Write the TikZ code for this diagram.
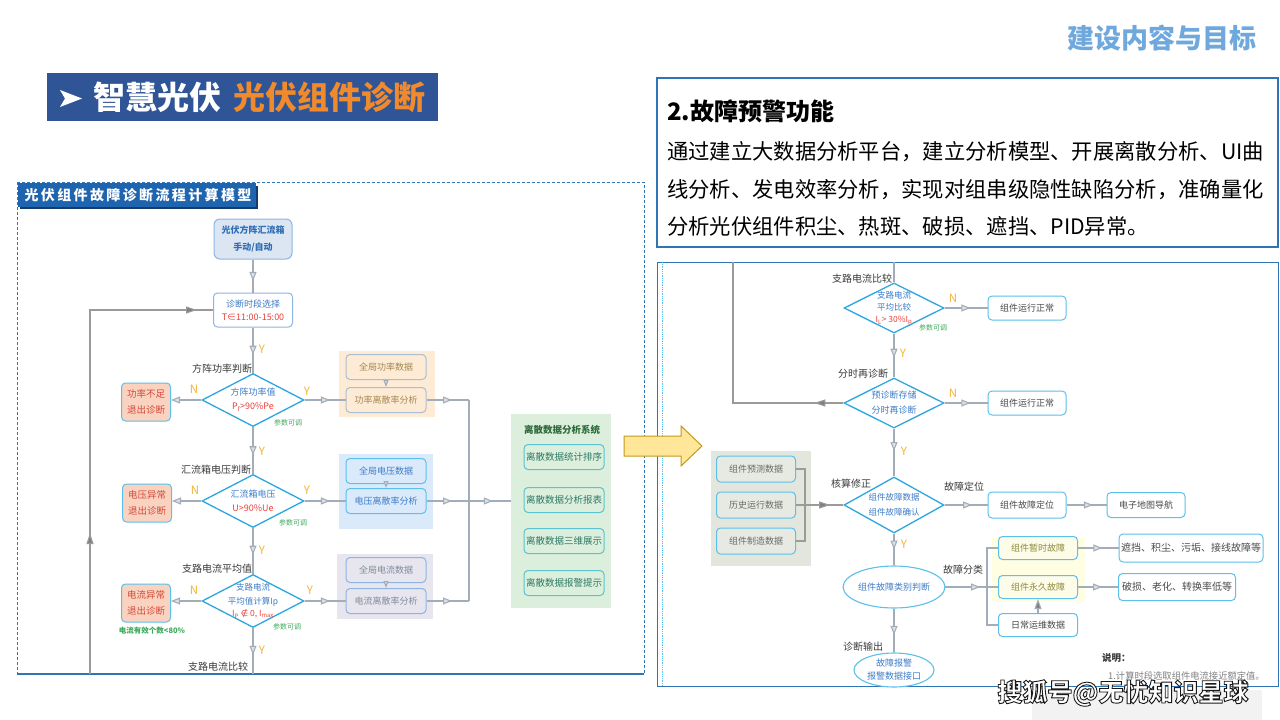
\documentclass[tikz,border=0pt]{standalone}
\usepackage{fontspec}
\setmainfont{Noto Sans CJK SC}
\newfontfamily\symfont{DejaVu Sans}
\usetikzlibrary{shapes.geometric,arrows.meta,decorations.markings}
\definecolor{titleblue}{HTML}{2F5597}
\definecolor{torange}{HTML}{F08A2C}
\definecolor{hdrblue}{HTML}{6FA8DC}
\definecolor{panelblue}{HTML}{2E75B6}
\definecolor{barblue}{HTML}{1F64AE}
\definecolor{diablue}{HTML}{2BA6E0}
\definecolor{boxblue}{HTML}{5BC0EB}
\definecolor{txtblue}{HTML}{3C7CC8}
\definecolor{txtred}{HTML}{E8413C}
\definecolor{ynorange}{HTML}{F5B335}
\definecolor{tinygreen}{HTML}{3CAA5A}
\definecolor{labelgray}{HTML}{3A3A3A}
\definecolor{boxtxt}{HTML}{4A4A4A}
\definecolor{linegray}{HTML}{A3ADB8}
\definecolor{arrfill}{HTML}{DCE1E6}
\definecolor{darkarr}{HTML}{7F7F7F}
\definecolor{loopgray}{HTML}{9A9A9A}
\definecolor{peach}{HTML}{FAD3C0}
\definecolor{peachtxt}{HTML}{D4483A}
\definecolor{pwrbg}{HTML}{FDEBD6}
\definecolor{pwrtxt}{HTML}{A5874F}
\definecolor{pwrborder}{HTML}{A9BED2}
\definecolor{volbg}{HTML}{DAEAFA}
\definecolor{curbg}{HTML}{E7E5EE}
\definecolor{curtxt}{HTML}{7F8C9A}
\definecolor{sysbg}{HTML}{DCEEDC}
\definecolor{systxt}{HTML}{2F7A68}
\definecolor{systitle}{HTML}{2E6B3C}
\definecolor{sysborder}{HTML}{5BC3D0}
\definecolor{databg}{HTML}{E2E6DC}
\definecolor{databox}{HTML}{E6EAE2}
\definecolor{datatxt}{HTML}{6A6A6A}
\definecolor{yelbg}{HTML}{FFFDE2}
\definecolor{yelbox}{HTML}{FDFCE8}
\definecolor{yeltxt}{HTML}{8E8A3E}
\definecolor{bigarrow}{HTML}{FFE699}
\definecolor{bigarrowb}{HTML}{C49A1C}
\definecolor{topfill}{HTML}{DCE6F2}
\definecolor{topborder}{HTML}{8EB4E3}
\definecolor{toptxt}{HTML}{2F6DB5}
\begin{document}
\begin{tikzpicture}[x=1pt,y=-1pt,
  lbl/.style={font=\fontsize{10}{12}\selectfont, text=labelgray, inner sep=0pt},
  yn/.style={font=\fontsize{11.5}{12}\selectfont, text=ynorange, inner sep=0pt},
  tiny/.style={font=\fontsize{7}{8}\selectfont, text=tinygreen, inner sep=0pt},
  rbox/.style={draw=boxblue, fill=white, line width=1pt, rounded corners=4pt, inner sep=0pt, align=center, text=boxtxt, font=\fontsize{9}{15}\selectfont},
  dia/.style={diamond, draw=diablue, line width=1.3pt, fill=white, inner sep=0pt},
  dtext/.style={font=\fontsize{9}{14}\selectfont, text=txtblue, align=center, inner sep=0pt},
  ell/.style={ellipse, draw=boxblue, line width=1.1pt, fill=white, inner sep=0pt, align=center, text=txtblue, font=\fontsize{9}{13}\selectfont},
  conn/.style={draw=linegray, line width=1.1pt},
  marr/.style={postaction={decorate, decoration={markings, mark=at position #1 with {\arrow{Triangle[length=9pt, width=7pt, fill=arrfill]}}}}},
  earr/.style={-{Triangle[length=9pt, width=7pt, fill=arrfill]}},
  sarr/.style={-{Triangle[length=7pt, width=5pt, fill=arrfill]}},
  darr/.style={postaction={decorate, decoration={markings, mark=at position #1 with {\arrow{Triangle[length=11pt, width=7pt, fill=darkarr]}}}}},
  pbox/.style={rbox, draw=pwrborder, fill=pwrbg, text=pwrtxt, minimum width=80pt, minimum height=25pt},
  vbox/.style={rbox, fill=volbg, text=txtblue, minimum width=80pt, minimum height=25pt},
  cbox/.style={rbox, draw=topborder, fill=curbg, text=curtxt, minimum width=80pt, minimum height=25pt},
  sbox/.style={rbox, draw=sysborder, fill=sysbg, text=systxt, minimum width=80pt, minimum height=25pt, font=\fontsize{9.5}{10}\selectfont},
  nbox/.style={rbox, fill=peach, text=peachtxt, minimum width=49pt, minimum height=38pt, font=\fontsize{9.5}{16}\selectfont},
  qbox/.style={rbox, fill=databox, text=datatxt, minimum width=79pt, minimum height=26pt},
  kbox/.style={rbox, fill=yelbox, text=yeltxt, minimum width=79pt, minimum height=23pt}
]
\useasboundingbox (0,0) rectangle (1280,720);
\fill[white] (0,0) rectangle (1280,720);

% ---------- header ----------
\node[font=\fontsize{27}{27}\selectfont\bfseries, text=hdrblue, anchor=east, inner sep=0pt] (hdr) at (1257,38) {建设内容与目标};
\fill[titleblue] (47,73) rectangle (438,121);
\fill[white] (60,90) -- (82,98.5) -- (60,107) -- (65,98.5) -- cycle;
\node[anchor=west, font=\fontsize{32}{32}\selectfont\bfseries, text=white, inner sep=0pt] (ttl) at (93,97) {智慧光伏\hspace{12pt}\textcolor{torange}{光伏组件诊断}};

% ---------- text box ----------
\draw[panelblue, line width=2pt, fill=white] (657,78) rectangle (1278,247);
\node[anchor=west, font=\fontsize{24}{24}\selectfont\bfseries, inner sep=0pt] (t2t) at (667,111) {2.故障预警功能};
\node[anchor=west, align=left, font=\fontsize{21.3}{37.5}\selectfont, inner sep=0pt] (body) at (667,189) {通过建立大数据分析平台，建立分析模型、开展离散分析、UI曲\\线分析、发电效率分析，实现对组串级隐性缺陷分析，准确量化\\分析光伏组件积尘、热斑、破损、遮挡、PID异常。};

% ---------- left panel ----------
\draw[panelblue, line width=0.8pt, densely dashed] (17,182) rectangle (644,674);
\draw[panelblue, line width=1.2pt] (17,674) -- (644,674);
\fill[barblue!60!black] (20,186) rectangle (258,209);
\fill[barblue] (18,183) rectangle (256,207);
\node[font=\fontsize{14}{14}\selectfont\bfseries\addfontfeature{LetterSpace=17}, text=white, inner sep=0pt] (ltitle) at (138,195) {光伏组件故障诊断流程计算模型};

\node[draw=topborder, fill=topfill, line width=1pt, rounded corners=6pt, minimum width=78pt, minimum height=40pt, inner sep=0pt, align=center, font=\fontsize{9}{17}\selectfont\bfseries, text=toptxt] (src) at (253,239) {光伏方阵汇流箱\\手动/自动};
\node[rbox, draw=topborder, minimum width=79pt, minimum height=34pt, font=\fontsize{9}{13}\selectfont, text=txtblue] (period) at (253,310) {诊断时段选择\\\textcolor{txtred}{T∈11:00-15:00}};
\draw[conn, marr=0.65] (src.south) -- (period.north);

% diamond 1
\node[lbl] (l1) at (222,369) {方阵功率判断};
\node[dia, minimum width=102pt, minimum height=53pt, label={[dtext]center:{方阵功率值\\\textcolor{txtred}{P\textsubscript{f}>90\%Pe}}}] (d1) at (253,400) {};
\node[tiny] (t1) at (288,423) {参数可调};
\node[yn] (yd0) at (262,349) {Y};
\node[yn] (n1l) at (194,389) {N};
\node[yn] (y1r) at (307,391) {Y};
\node[nbox] (b1) at (146,402) {功率不足\\退出诊断};
\draw[conn, marr=0.6] (period.south) -- (d1.north);
\draw[conn, earr] (d1.west) -- (b1.east |- d1.west);

\fill[pwrbg] (339,351) rectangle (435,417);
\node[pbox] (p1) at (386,367) {全局功率数据};
\node[pbox] (p2) at (386,400) {功率离散率分析};
\draw[conn, sarr] (p1.south) -- (p2.north);
\draw[conn, marr=0.62] (d1.east) -- (p2.west);
\coordinate (bus1) at (469,400);
\draw[conn, marr=0.6] (p2.east) -- (bus1);

% diamond 2
\node[yn] (yd1) at (262,451) {Y};
\node[lbl] (l2) at (216,470) {汇流箱电压判断};
\node[dia, minimum width=102pt, minimum height=53pt, label={[dtext]center:{汇流箱电压\\\textcolor{txtred}{U>90\%Ue}}}] (d2) at (253,501) {};
\draw[conn, marr=0.6] (d1.south) -- (d2.north);
\node[tiny] (t2) at (293,523) {参数可调};
\node[yn] (n2l) at (195,490) {N};
\node[yn] (y2r) at (307,490) {Y};
\node[nbox] (b2) at (147,503) {电压异常\\退出诊断};
\draw[conn, earr] (d2.west) -- (b2.east |- d2.west);

\fill[volbg] (339,454) rectangle (433,529);
\node[vbox] (v1) at (386,471) {全局电压数据};
\node[vbox] (v2) at (386,501) {电压离散率分析};
\draw[conn, sarr] (v1.south) -- (v2.north);
\draw[conn, marr=0.62] (d2.east) -- (v2.west);
\coordinate (bus2) at (469,501);
\draw[conn, marr=0.6] (v2.east) -- (bus2);

% diamond 3
\node[yn] (yd2) at (262,550) {Y};
\node[lbl] (l3) at (217,569) {支路电流平均值};
\node[dia, minimum width=102pt, minimum height=53pt, label={[dtext, font=\fontsize{8.5}{13.5}\selectfont]center:{支路电流\\平均值计算Ip\\[-1pt]\textcolor{txtred}{I\textsubscript{P} {\symfont ∉} 0, I\textsubscript{max}}}}] (d3) at (253,601) {};
\draw[conn, marr=0.58] (d2.south) -- (d3.north);
\node[tiny] (t3) at (287,627) {参数可调};
\node[yn] (n3l) at (194,590) {N};
\node[yn] (y3r) at (310,590) {Y};
\node[nbox] (b3) at (146,603) {电流异常\\退出诊断};
\draw[conn, earr] (d3.west) -- (b3.east |- d3.west);
\node[tiny, font=\fontsize{7.5}{8}\selectfont\bfseries] (t4) at (152,631) {电流有效个数<80\%};

\fill[curbg] (337,554) rectangle (433,619);
\node[cbox] (c1) at (386,570) {全局电流数据};
\node[cbox] (c2) at (386,601) {电流离散率分析};
\draw[conn, sarr] (c1.south) -- (c2.north);
\draw[conn, marr=0.62] (d3.east) -- (c2.west);
\coordinate (bus3) at (469,601);
\draw[conn, marr=0.6] (c2.east) -- (bus3);
\draw[conn] (bus1) -- (bus3);

\coordinate (lbot) at (253,674);
\draw[conn, marr=0.58] (d3.south) -- (lbot);
\node[yn] (yd3) at (262,650) {Y};
\node[lbl] (l4) at (218,667) {支路电流比较};

\coordinate (lloop) at (90,674);
\draw[draw=loopgray, line width=1.1pt, postaction={decorate, decoration={markings,
   mark=at position 141pt with {\arrow{Triangle[length=11pt, width=7pt, fill=darkarr]}},
   mark=at position 471pt with {\arrow{Triangle[length=11pt, width=7pt, fill=darkarr]}}}}] (lloop) |- (period.west);

% discrete data system
\node[fill=sysbg, minimum width=100pt, minimum height=194pt, inner sep=0pt] (sys) at (561,511) {};
\node[font=\fontsize{9.5}{10}\selectfont\bfseries, text=systitle, inner sep=0pt] (systitle) at (562,430) {离散数据分析系统};
\node[sbox] (s1) at (564,457) {离散数据统计排序};
\node[sbox] (s2) at (564,500) {离散数据分析报表};
\node[sbox] (s3) at (564,541) {离散数据三维展示};
\node[sbox] (s4) at (564,583) {离散数据报警提示};
\draw[conn, marr=0.57] (bus2) -- (sys.west |- bus2);

% ---------- right panel ----------
\draw[panelblue, line width=1pt] (657,262) rectangle (1278,686);
\draw[boxblue, densely dotted, line width=0.8pt] (662,262) -- (662,686);

\coordinate (rtop) at (894,262);
\node[lbl] (lA) at (862,279) {支路电流比较};
\node[dia, minimum width=100pt, minimum height=50pt, label={[dtext, font=\fontsize{8.5}{12}\selectfont]center:{支路电流\\平均比较\\\textcolor{txtred}{I\textsubscript{L}> 30\%I\textsubscript{p}}}}] (dA) at (894,308) {};
\draw[conn] (rtop) -- (dA.north);
\node[tiny] (tA) at (933,328) {参数可调};
\node[yn] (nA) at (953,298) {N};
\node[rbox, minimum width=78pt, minimum height=24pt] (r1) at (1027,308) {组件运行正常};
\draw[conn, marr=0.6] (dA.east) -- (r1.west);

\node[yn] (yA) at (903,353) {Y};
\node[lbl] (lB) at (863,374) {分时再诊断};
\node[dia, minimum width=100pt, minimum height=50pt, label={[dtext, font=\fontsize{9}{15}\selectfont]center:{预诊断存储\\分时再诊断}}] (dB) at (894,403) {};
\draw[conn, marr=0.55] (dA.south) -- (dB.north);
\node[yn] (nB) at (953,393) {N};
\node[rbox, minimum width=78pt, minimum height=24pt] (r2) at (1027,403) {组件运行正常};
\draw[conn, marr=0.6] (dB.east) -- (r2.west);
\coordinate (rloop) at (733,262);
\draw[draw=loopgray, line width=1.1pt, darr=29pt] (dB.west) -| (rloop);

\fill[databg] (711,451) rectangle (811,566);
\node[qbox] (q1) at (756,469) {组件预测数据};
\node[qbox] (q2) at (756,505) {历史运行数据};
\node[qbox] (q3) at (756,541) {组件制造数据};
\coordinate (qb) at (805,505);
\draw[draw=loopgray, line width=1.1pt] (q1.east) -| (qb);
\draw[draw=loopgray, line width=1.1pt] (q3.east) -| (qb);

\node[yn] (yB) at (904,451) {Y};
\node[lbl] (lC) at (851,484) {核算修正};
\node[dia, minimum width=100pt, minimum height=56pt, label={[dtext, font=\fontsize{8.5}{15}\selectfont]center:{组件故障数据\\组件故障确认}}] (dC) at (894,505) {};
\draw[conn, marr=0.47] (dB.south) -- (dC.north);
\draw[draw=loopgray, line width=1.1pt, darr=0.72] (q2.east) -- (dC.west);

\node[lbl] (lF) at (964,487) {故障定位};
\node[rbox, minimum width=78pt, minimum height=26pt] (f1) at (1027,505) {组件故障定位};
\node[rbox, minimum width=78pt, minimum height=25pt] (f2) at (1146,505) {电子地图导航};
\draw[conn, marr=0.64] (dC.east) -- (f1.west);
\draw[conn, marr=0.66] (f1.east) -- (f2.west);

\node[yn] (yC) at (904,544) {Y};
\node[ell, minimum width=99pt, minimum height=42pt] (e1) at (894,587) {组件故障类别判断};
\draw[conn, marr=0.5] (dC.south) -- (e1.north);
\node[lbl] (lK) at (963,570) {故障分类};
\fill[yelbg] (992,538) rectangle (1085,602);
\node[kbox] (k1) at (1038,548) {组件暂时故障};
\node[kbox] (k2) at (1038,587) {组件永久故障};
\node[rbox, minimum width=79pt, minimum height=23pt] (k3) at (1038,625) {日常运维数据};
\coordinate (kb) at (987,587);
\draw[conn, marr=0.66] (e1.east) -- (k2.west);
\draw[conn] (k1.west) -| (kb);
\draw[conn] (k3.west) -| (kb);
\draw[conn, -{Triangle[length=10pt, width=7pt, fill=darkarr]}] (k3.north) -- (k2.south);
\node[rbox, minimum width=144pt, minimum height=28pt, font=\fontsize{10}{12}\selectfont] (w1) at (1191,548) {遮挡、积尘、污垢、接线故障等};
\node[rbox, minimum width=117pt, minimum height=27pt, font=\fontsize{10}{12}\selectfont] (w2) at (1177,587) {破损、老化、转换率低等};
\draw[conn, marr=0.6] (k1.east) -- (w1.west);
\draw[conn, marr=0.6] (k2.east) -- (w2.west);

\node[lbl] (lG) at (863,647) {诊断输出};
\node[ell, minimum width=80pt, minimum height=34pt] (e2) at (894,670) {故障报警\\报警数据接口};
\draw[conn, marr=0.6] (e1.south) -- (e2.north);

\node[font=\fontsize{9.5}{10}\selectfont\bfseries, text=labelgray, anchor=west, inner sep=0pt] (note) at (1102,658) {说明：};
\node[font=\fontsize{9.3}{10}\selectfont, text=gray, anchor=west, inner sep=0pt] (note1) at (1108,676) {1.计算时段选取组件电流接近额定值。};

% ---------- big arrow ----------
\draw[bigarrowb, fill=bigarrow, line width=1pt] (624,436) -- (681,436) -- (681,426) -- (702,446) -- (681,466) -- (681,456) -- (624,456) -- cycle;

% ---------- watermark ----------
\fill[black!5] (1032,690) rectangle (1262,720);
\node[font=\fontsize{25}{25}\selectfont\bfseries, text=white, inner sep=0pt] (wm) at (1123,693) {\special{pdf:literal direct 0.1 0.1 0.1 RG 0.9 w 2 Tr}搜狐号@无忧知识星球\special{pdf:literal direct 0 Tr}};
\end{tikzpicture}
\end{document}
